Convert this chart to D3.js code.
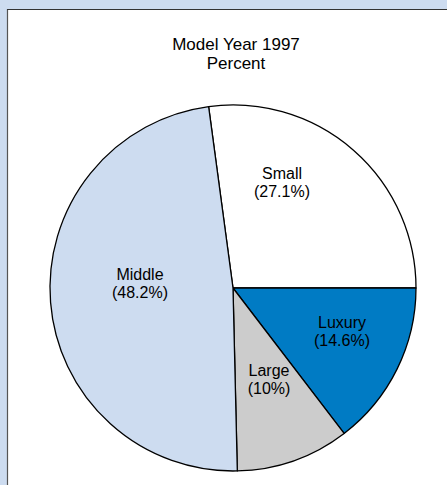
<!DOCTYPE html>
<html>
<head>
<meta charset="utf-8">
<script src="https://cdn.jsdelivr.net/npm/d3@7"></script>
<style>
  html, body { margin: 0; padding: 0; background: #cddcf0; }
  svg { display: block; }
  text { font-family: "Liberation Sans", Arial, Helvetica, sans-serif; fill: #000; }
</style>
</head>
<body>
<svg id="chart" width="447" height="485"></svg>
<script>
const categories = ["Small", "Luxury", "Large", "Middle"];
const values = [27.1, 14.6, 10, 48.2];
const valueLabels = ["(27.1%)", "(14.6%)", "(10%)", "(48.2%)"];
const colors = ["#ffffff", "#007bc4", "#cccccc", "#cddcf0"];
const titleLines = ["Model Year 1997", "Percent"];

const svg = d3.select("#chart");
const W = 447, H = 485;

// background and white panel
svg.append("rect").attr("width", W).attr("height", H).attr("fill", "#cddcf0");
svg.append("rect").attr("x", 8).attr("y", 9).attr("width", W - 8).attr("height", H - 9).attr("fill", "#ffffff");
svg.append("line").attr("x1", 7.5).attr("y1", 9).attr("x2", 7.5).attr("y2", H).attr("stroke", "#555").attr("stroke-width", 1.2);
svg.append("line").attr("x1", 7).attr("y1", 9.5).attr("x2", W).attr("y2", 9.5).attr("stroke", "#333").attr("stroke-width", 1.2);

// title
svg.append("text").attr("x", 236).attr("y", 49.5).attr("text-anchor", "middle")
  .style("font-size", "17px").text(titleLines[0]);
svg.append("text").attr("x", 236).attr("y", 68.5).attr("text-anchor", "middle")
  .style("font-size", "17px").text(titleLines[1]);

const cx = 233, cy = 288, r = 183;
const total = d3.sum(values);
const start = Math.PI / 2 - (values[0] / total) * 2 * Math.PI;
const pie = d3.pie().sort(null).value(d => d).startAngle(start).endAngle(start + 2 * Math.PI);
const arcs = pie(values);
const arc = d3.arc().innerRadius(0).outerRadius(r);

const g = svg.append("g").attr("transform", `translate(${cx},${cy})`);
g.selectAll("path").data(arcs).join("path")
  .attr("d", arc)
  .attr("fill", (d, i) => colors[i])
  .attr("stroke", "#000")
  .attr("stroke-width", 1.3)
  .attr("stroke-linejoin", "round");

// label anchor offsets (pixels from pie centre) — layout, not data
const labelOffsets = [[49, -109], [109, 40], [36, 88], [-93, -8]];
arcs.forEach((d, i) => {
  const [x, y] = labelOffsets[i];
  const t = g.append("text").attr("text-anchor", "middle").style("font-size", "16px");
  t.append("tspan").attr("x", x).attr("y", y).text(categories[i]);
  t.append("tspan").attr("x", x).attr("y", y + 17.5).text(valueLabels[i]);
});
</script>
</body>
</html>
